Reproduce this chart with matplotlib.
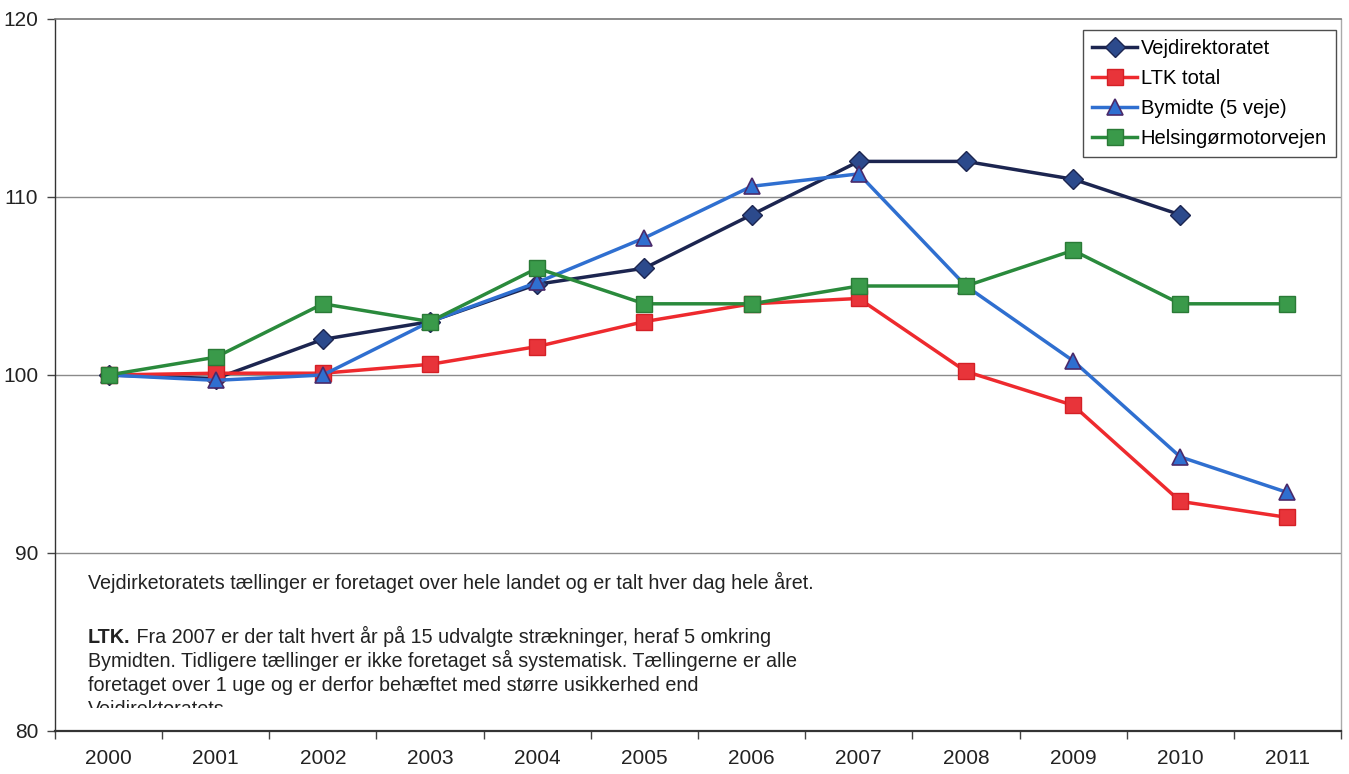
import matplotlib
matplotlib.use("Agg")
import matplotlib.pyplot as plt
from matplotlib.transforms import Bbox, TransformedBbox
import numpy as np

plt.rcParams['font.family'] = ['Liberation Sans', 'DejaVu Sans']

years = ["2000", "2001", "2002", "2003", "2004", "2005",
         "2006", "2007", "2008", "2009", "2010", "2011"]

vejdirektoratet = [100.0, 99.8, 102.0, 103.0, 105.1, 106.0,
                   109.0, 112.0, 112.0, 111.0, 109.0, None]
ltk_total = [100.0, 100.1, 100.1, 100.6, 101.6, 103.0,
             104.0, 104.3, 100.2, 98.3, 92.9, 92.0]
bymidte = [100.0, 99.7, 100.0, 103.0, 105.2, 107.7,
           110.6, 111.3, 105.0, 100.8, 95.4, 93.4]
helsingor = [100.0, 101.0, 104.0, 103.0, 106.0, 104.0,
             104.0, 105.0, 105.0, 107.0, 104.0, 104.0]

series_labels = ["Vejdirektoratet", "LTK total", "Bymidte (5 veje)",
                 "Helsingørmotorvejen"]

y_ticks = [80, 90, 100, 110, 120]

note_line1 = ("Vejdirketoratets tællinger er foretaget over hele landet "
              "og er talt hver dag hele året.")
note_bold = "LTK."
note_rest = [" Fra 2007 er der talt hvert år på 15 udvalgte strækninger, heraf 5 omkring",
             "Bymidten. Tidligere tællinger er ikke foretaget så systematisk. Tællingerne er alle",
             "foretaget over 1 uge og er derfor behæftet med større usikkerhed end",
             "Vejdirektoratets"]


def to_array(vals):
    return np.array([np.nan if v is None else v for v in vals], dtype=float)


fig = plt.figure(figsize=(13.49, 7.74), dpi=100)
ax = fig.add_axes([55 / 1349, 1 - 731 / 774, (1341 - 55) / 1349, (731 - 19) / 774])

x = np.arange(len(years))

ax.plot(x, to_array(vejdirektoratet), color="#1c2550", lw=2.5, marker="D",
        ms=10, mfc="#2c4a8c", mec="#1c2550", mew=1.0, label=series_labels[0], zorder=3)
ax.plot(x, to_array(ltk_total), color="#ee2a2e", lw=2.5, marker="s",
        ms=11, mfc="#e8343a", mec="#d42026", mew=1.0, label=series_labels[1], zorder=3)
ax.plot(x, to_array(bymidte), color="#2f6fd0", lw=2.5, marker="^",
        ms=12, mfc="#2f6fd0", mec="#4a2a6a", mew=1.2, label=series_labels[2], zorder=4)
ax.plot(x, to_array(helsingor), color="#2a8a3c", lw=2.5, marker="s",
        ms=11, mfc="#3a9a4a", mec="#2a7a36", mew=1.0, label=series_labels[3], zorder=5)

ax.set_xlim(-0.5, len(years) - 0.5)
ax.set_ylim(80, 120)

ax.set_yticks(y_ticks)
ax.set_yticklabels([str(v) for v in y_ticks], fontsize=15, color="#222222")
ax.tick_params(axis="y", length=6, width=1, color="#444444", pad=6)

ax.set_xticks(x)
ax.set_xticklabels(years, fontsize=15, color="#222222")
ax.set_xticks(np.arange(len(years) + 1) - 0.5, minor=True)
ax.tick_params(axis="x", which="major", length=0, pad=13)
ax.tick_params(axis="x", which="minor", length=6, width=1, color="#444444")

for yv in [90, 100, 110]:
    ax.axhline(yv, color="#8a8a8a", lw=1.0, zorder=1)

ax.spines["left"].set_color("#333333")
ax.spines["left"].set_linewidth(1.0)
ax.spines["bottom"].set_color("#333333")
ax.spines["bottom"].set_linewidth(1.6)
ax.spines["top"].set_color("#777777")
ax.spines["top"].set_linewidth(1.2)
ax.spines["right"].set_color("#aaaaaa")
ax.spines["right"].set_linewidth(1.0)

leg = ax.legend(loc="upper right", bbox_to_anchor=(1336 / 1349, 1 - 30 / 774),
                bbox_transform=fig.transFigure, fontsize=14.5, frameon=True,
                fancybox=False, edgecolor="#222222", handlelength=2.2,
                handletextpad=0.2, labelspacing=0.55, borderpad=0.45,
                borderaxespad=0)
leg.get_frame().set_linewidth(1.0)

# notes below the curves, clipped at the lower edge of the text area
clip = TransformedBbox(Bbox([[0, 1 - 708 / 774], [1, 1]]), fig.transFigure)
note_size = 14.2

t1 = fig.text(88 / 1349, 1 - 589 / 774, note_line1, fontsize=note_size,
              va="baseline", ha="left", color="#222222")

t_bold = fig.text(88 / 1349, 1 - 643 / 774, note_bold, fontsize=note_size,
                  fontweight="bold", va="baseline", ha="left", color="#222222")
fig.canvas.draw()
bold_w = t_bold.get_window_extent().width / fig.bbox.width

line_y = [643, 667, 691, 715]
for i, (txt, py) in enumerate(zip(note_rest, line_y)):
    x0 = 88 / 1349 + (bold_w if i == 0 else 0)
    t = fig.text(x0, 1 - py / 774, txt, fontsize=note_size, va="baseline",
                 ha="left", color="#222222")
    t.set_clip_on(True)
    t.set_clip_box(clip)

fig.savefig("out.png", dpi=100)
